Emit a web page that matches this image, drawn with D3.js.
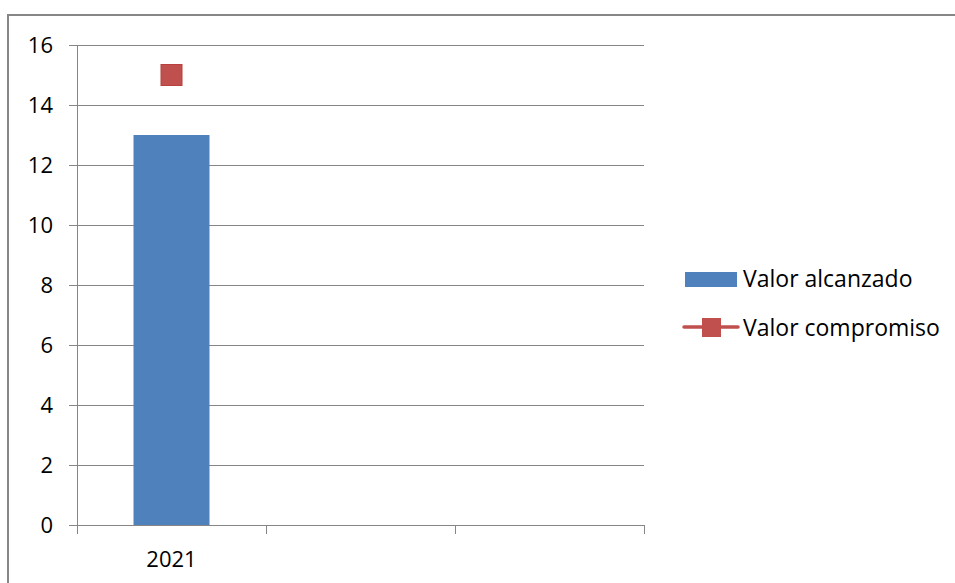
<!DOCTYPE html>
<html><head><meta charset="utf-8">
<script src="https://cdn.jsdelivr.net/npm/d3@7"></script>
<style>body{margin:0;background:#fff}svg{display:block}text{font-family:"Open Sans","Liberation Sans",sans-serif;fill:#000}</style>
</head><body>
<script>
const categories = ["2021", "", ""];
const valorAlcanzado = [13, null, null];
const valorCompromiso = [15, null, null];
const yTicks = [0, 2, 4, 6, 8, 10, 12, 14, 16];
const seriesNames = ["Valor alcanzado", "Valor compromiso"];

const W = 955, H = 583;
const svg = d3.select("body").append("svg").attr("width", W).attr("height", H);

// outer frame
svg.append("rect").attr("x", 8).attr("y", 15).attr("width", 960).attr("height", 600)
  .attr("fill", "none").attr("stroke", "#868686").attr("stroke-width", 2);

const x0 = 77, x1 = 644, yTop = 45, yBot = 525;
const x = d3.scaleBand().domain(d3.range(categories.length)).range([x0, x1]).paddingInner(0).paddingOuter(0);
const y = d3.scaleLinear().domain([0, 16]).range([yBot, yTop]);

// gridlines
svg.append("g").selectAll("line").data(yTicks.filter(d => d > 0)).join("line")
  .attr("x1", x0).attr("x2", x1).attr("y1", d => y(d)).attr("y2", d => y(d))
  .attr("stroke", "#868686").attr("stroke-width", 1).attr("shape-rendering", "crispEdges");

// y axis
const yAxis = svg.append("g").attr("transform", `translate(${x0},0)`)
  .call(d3.axisLeft(y).tickValues(yTicks).tickSize(8).tickPadding(16).tickSizeOuter(0));
yAxis.select(".domain").attr("stroke", "#868686");
yAxis.selectAll(".tick line").attr("stroke", "#868686");
yAxis.selectAll("text").style("font-size", "22px").attr("fill", "#000");

// x axis
const xAxisG = svg.append("g").attr("transform", `translate(0,${yBot})`);
xAxisG.append("line").attr("x1", x0).attr("x2", x1).attr("y1", 0).attr("y2", 0).attr("stroke", "#868686").attr("shape-rendering", "crispEdges");
const bounds = d3.range(categories.length + 1).map(i => i < categories.length ? x(i) : x1);
xAxisG.selectAll("line.tk").data(bounds).join("line").attr("class", "tk")
  .attr("x1", d => d).attr("x2", d => d).attr("y1", 0).attr("y2", 9).attr("stroke", "#868686").attr("shape-rendering", "crispEdges");
xAxisG.selectAll("text").data(categories).join("text")
  .attr("x", (d, i) => x(i) + x.bandwidth() / 2).attr("y", 42)
  .attr("text-anchor", "middle").style("font-size", "22px").text(d => d);

// bars
const barW = 76;
svg.append("g").selectAll("rect").data(valorAlcanzado.map((v, i) => ({v, i})).filter(d => d.v != null)).join("rect")
  .attr("x", d => x(d.i) + x.bandwidth() / 2 - barW / 2).attr("width", barW)
  .attr("y", d => y(d.v)).attr("height", d => yBot - y(d.v)).attr("fill", "#4F81BD");

// markers
const ms = 21;
svg.append("g").selectAll("rect").data(valorCompromiso.map((v, i) => ({v, i})).filter(d => d.v != null)).join("rect")
  .attr("x", d => x(d.i) + x.bandwidth() / 2 - ms / 2).attr("y", d => y(d.v) - ms / 2)
  .attr("width", ms).attr("height", ms).attr("fill", "#C0504D").attr("stroke", "#B9403D").attr("stroke-width", 1);

// legend
const lg = svg.append("g");
lg.append("rect").attr("x", 685).attr("y", 272).attr("width", 52).attr("height", 15).attr("fill", "#4F81BD");
lg.append("text").attr("x", 743).attr("y", 287).style("font-size", "23px").text(seriesNames[0]);
lg.append("line").attr("x1", 684).attr("x2", 738).attr("y1", 327).attr("y2", 327).attr("stroke", "#C0504D").attr("stroke-width", 3.5).attr("stroke-linecap", "round");
lg.append("rect").attr("x", 702).attr("y", 318).attr("width", 19).attr("height", 19).attr("fill", "#C0504D");
lg.append("text").attr("x", 743).attr("y", 336).style("font-size", "23px").text(seriesNames[1]);
</script>
</body></html>
